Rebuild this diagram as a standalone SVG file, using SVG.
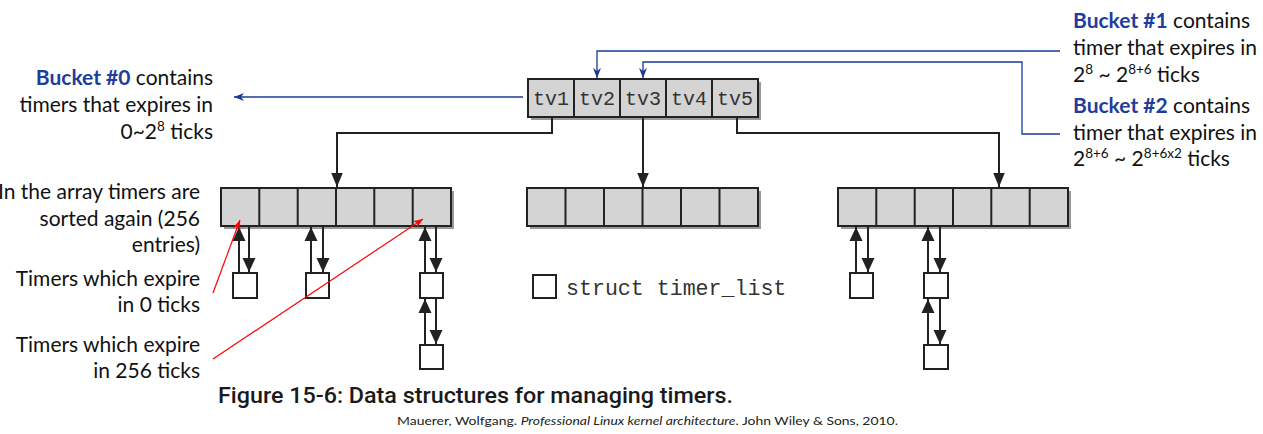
<svg xmlns="http://www.w3.org/2000/svg" width="1263" height="434" viewBox="0 0 1263 434">
<style>
.lbl{font-family:Lato,"Open Sans","Noto Sans",sans-serif;font-size:21px;fill:#111}
.bk{font-weight:bold;fill:#1f3d9c}
.sup{font-size:13.5px}
.mono{font-family:"Liberation Mono","DejaVu Sans Mono",monospace;fill:#333}
.cell{fill:#d4d4d4;stroke:#222;stroke-width:2}
.shadow{fill:#9a9a9a}
.div{stroke:#222;stroke-width:2}
.tbox{fill:#fff;stroke:#222;stroke-width:2}
.blk{fill:none;stroke:#222;stroke-width:2}
.blu{fill:none;stroke:#1a3a9a;stroke-width:1.3}
.red{fill:none;stroke:#ff0000;stroke-width:1.2}
</style>
<defs>
<marker id="aBig" markerUnits="userSpaceOnUse" markerWidth="14" markerHeight="17" viewBox="0 0 17 14" refX="17" refY="7" orient="auto"><path d="M0,0 L17,7 L0,14 z" fill="#222"/></marker>
<marker id="aSm" markerUnits="userSpaceOnUse" markerWidth="14" markerHeight="14" viewBox="0 0 14 13" refX="14" refY="6.5" orient="auto"><path d="M0,0 L14,6.5 L0,13 z" fill="#222"/></marker>
<marker id="aBlue" markerUnits="userSpaceOnUse" markerWidth="10" markerHeight="10" viewBox="0 0 10 8" refX="10" refY="4" orient="auto"><path d="M0,0 L10,4 L0,8 L3,4 z" fill="#1a3a9a"/></marker>
<marker id="aRed" markerUnits="userSpaceOnUse" markerWidth="10" markerHeight="10" viewBox="0 0 10 8" refX="10" refY="4" orient="auto"><path d="M0,0 L10,4 L0,8 L3,4 z" fill="#ff0000"/></marker>
</defs>

<g id="tv-vector">
<rect class="shadow" x="531" y="82" width="230" height="38"/>
<rect class="cell" x="528" y="79" width="230" height="38"/>
<path class="div" d="M574 79V117M620 79V117M666 79V117M712 79V117"/>
<g class="mono" font-size="20" text-anchor="middle">
<text x="551" y="105">tv1</text><text x="597" y="105">tv2</text><text x="643" y="105">tv3</text><text x="689" y="105">tv4</text><text x="735" y="105">tv5</text>
</g>
</g>

<g id="array-left">
<rect class="shadow" x="224" y="191" width="230" height="38"/>
<rect class="cell" x="221" y="188" width="230" height="38"/>
<path class="div" d="M259.3 188V226M297.7 188V226M336 188V226M374.3 188V226M412.7 188V226"/>
</g>
<g id="array-middle">
<rect class="shadow" x="530" y="191" width="231" height="38"/>
<rect class="cell" x="527" y="188" width="231" height="38"/>
<path class="div" d="M565.5 188V226M604 188V226M642.5 188V226M681 188V226M719.5 188V226"/>
</g>
<g id="array-right">
<rect class="shadow" x="841" y="191" width="230" height="38"/>
<rect class="cell" x="838" y="188" width="230" height="38"/>
<path class="div" d="M876.3 188V226M914.7 188V226M953 188V226M991.3 188V226M1029.7 188V226"/>
</g>

<g id="timer-lists">
<rect id="t1" class="tbox" x="233" y="273" width="24" height="25"/>
<rect id="t2" class="tbox" x="306" y="273" width="23" height="25"/>
<rect id="t3" class="tbox" x="420" y="273" width="23" height="25"/>
<rect id="t4" class="tbox" x="420" y="345" width="23" height="24"/>
<rect id="t5" class="tbox" x="850" y="273" width="23" height="25"/>
<rect id="t6" class="tbox" x="924" y="273" width="24" height="25"/>
<rect id="t7" class="tbox" x="924" y="345" width="24" height="24"/>
</g>

<g id="legend">
<rect class="tbox" x="533" y="275" width="23" height="23"/>
<text class="mono" x="566" y="295" font-size="21.6">struct timer_list</text>
</g>

<g id="connectors">
<path class="blk" d="M552 117V133H337V187" marker-end="url(#aBig)"/>
<path class="blk" d="M643 117V187" marker-end="url(#aBig)"/>
<path class="blk" d="M737 117V133H999V187" marker-end="url(#aBig)"/>
<path class="blk" d="M239 273V227" marker-end="url(#aSm)"/>
<path class="blk" d="M249 227V272" marker-end="url(#aSm)"/>
<path class="blk" d="M311 273V227" marker-end="url(#aSm)"/>
<path class="blk" d="M323 227V272" marker-end="url(#aSm)"/>
<path class="blk" d="M425 273V227" marker-end="url(#aSm)"/>
<path class="blk" d="M436 227V272" marker-end="url(#aSm)"/>
<path class="blk" d="M425 345V299" marker-end="url(#aSm)"/>
<path class="blk" d="M436 299V344" marker-end="url(#aSm)"/>
<path class="blk" d="M856 273V227" marker-end="url(#aSm)"/>
<path class="blk" d="M868 227V272" marker-end="url(#aSm)"/>
<path class="blk" d="M928 273V227" marker-end="url(#aSm)"/>
<path class="blk" d="M940 227V272" marker-end="url(#aSm)"/>
<path class="blk" d="M928 345V299" marker-end="url(#aSm)"/>
<path class="blk" d="M940 299V344" marker-end="url(#aSm)"/>
<path class="blu" d="M523 97H234" marker-end="url(#aBlue)"/>
<path class="blu" d="M1060 51H597V78" marker-end="url(#aBlue)"/>
<path class="blu" d="M1060 134H1022V62H643V78" marker-end="url(#aBlue)"/>
<path class="red" d="M213 293L240 220" marker-end="url(#aRed)"/>
<path class="red" d="M213 359L423 219" marker-end="url(#aRed)"/>
</g>

<g id="label-bucket0" class="lbl" text-anchor="end">
<text x="213" y="85"><tspan class="bk">Bucket #0</tspan> contains</text>
<text x="213" y="112">timers that expires in</text>
<text x="213" y="139">0~2<tspan class="sup" dy="-8">8</tspan><tspan dy="8"> ticks</tspan></text>
</g>

<g id="label-bucket1" class="lbl">
<text x="1073" y="28"><tspan class="bk">Bucket #1</tspan> contains</text>
<text x="1073" y="55">timer that expires in</text>
<text x="1073" y="82">2<tspan class="sup" dy="-8">8</tspan><tspan dy="8"> ~ 2</tspan><tspan class="sup" dy="-8">8+6</tspan><tspan dy="8"> ticks</tspan></text>
</g>

<g id="label-bucket2" class="lbl">
<text x="1073" y="113"><tspan class="bk">Bucket #2</tspan> contains</text>
<text x="1073" y="140">timer that expires in</text>
<text x="1073" y="166">2<tspan class="sup" dy="-8">8+6</tspan><tspan dy="8"> ~ 2</tspan><tspan class="sup" dy="-8">8+6x2</tspan><tspan dy="8"> ticks</tspan></text>
</g>

<g id="label-array" class="lbl" text-anchor="end">
<text x="200" y="199">In the array timers are</text>
<text x="200" y="226">sorted again (256</text>
<text x="200" y="252">entries)</text>
</g>
<g id="label-0ticks" class="lbl" text-anchor="end">
<text x="200" y="286">Timers which expire</text>
<text x="200" y="312">in 0 ticks</text>
</g>
<g id="label-256ticks" class="lbl" text-anchor="end">
<text x="200" y="352">Timers which expire</text>
<text x="200" y="378">in 256 ticks</text>
</g>

<g id="caption">
<text x="218" y="403" font-family="Roboto,'Liberation Sans',sans-serif" font-weight="500" font-size="22" fill="#1a1a1a" textLength="515" lengthAdjust="spacingAndGlyphs">Figure 15-6: Data structures for managing timers.</text>
<text x="397" y="425" font-family="Lato,'Noto Sans',sans-serif" font-size="12" fill="#222" textLength="501" lengthAdjust="spacingAndGlyphs">Mauerer, Wolfgang. <tspan font-style="italic">Professional Linux kernel architecture</tspan>. John Wiley &amp; Sons, 2010.</text>
</g>
</svg>
